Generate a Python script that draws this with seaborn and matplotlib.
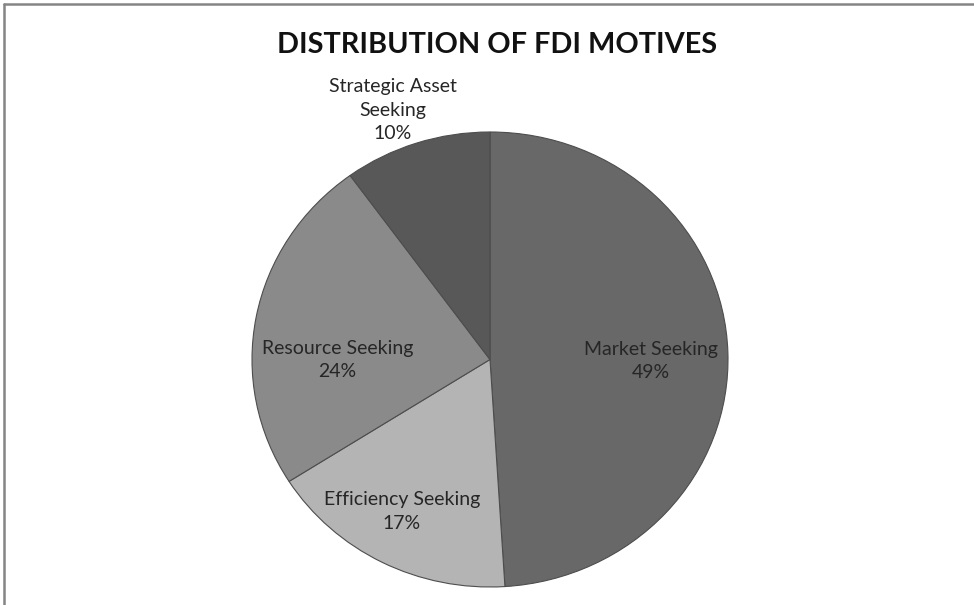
import numpy as np
import matplotlib
matplotlib.use("Agg")
import matplotlib.pyplot as plt
import seaborn as sns
from matplotlib.lines import Line2D

categories = ["Market Seeking", "Efficiency Seeking", "Resource Seeking", "Strategic Asset\nSeeking"]
values = [49, 17, 24, 10]
colors = ["#686868", "#b4b4b4", "#8a8a8a", "#585858"]
label_dist = [0.676, 0.764, 0.64, 1.17]
label_angle_offset = [-2.4, -2.0, 11.0, 2.4]
title = "DISTRIBUTION OF FDI MOTIVES"

sns.set_theme(style="white")
plt.rcParams['font.family'] = ['Lato', 'DejaVu Sans']

W, H = 974, 605
fig = plt.figure(figsize=(W / 100, H / 100), dpi=100)
fig.patch.set_facecolor("white")

# pie axes (slightly elliptical like the reference)
ax = fig.add_axes([252 / W, (H - 587) / H, 476 / W, 455 / H])
wedges, _ = ax.pie(values, colors=colors, startangle=90, counterclock=False,
                   wedgeprops=dict(edgecolor="#4d4d4d", linewidth=0.8))
ax.set_aspect("auto")
ax.set_xlim(-1, 1)
ax.set_ylim(-1, 1)
ax.axis("off")

for w, cat, v, d, off in zip(wedges, categories, values, label_dist, label_angle_offset):
    ang = np.deg2rad((w.theta1 + w.theta2) / 2 + off)
    ax.text(d * np.cos(ang), d * np.sin(ang), f"{cat}\n{v}%", ha="center", va="center",
            fontsize=14, color="#262626", linespacing=1.47)

fig.text(0.510, 1 - 45 / H, title, ha="center", va="center", fontsize=20.8,
         fontweight="bold", color="#111111")

# frame lines (top and left)
fig.add_artist(Line2D([4 / W, 1], [1 - 4 / H, 1 - 4 / H], color="#858585", lw=1.8,
                      transform=fig.transFigure))
fig.add_artist(Line2D([4 / W, 4 / W], [0, 1 - 4 / H], color="#858585", lw=1.8,
                      transform=fig.transFigure))

fig.savefig("out.png", dpi=100)
